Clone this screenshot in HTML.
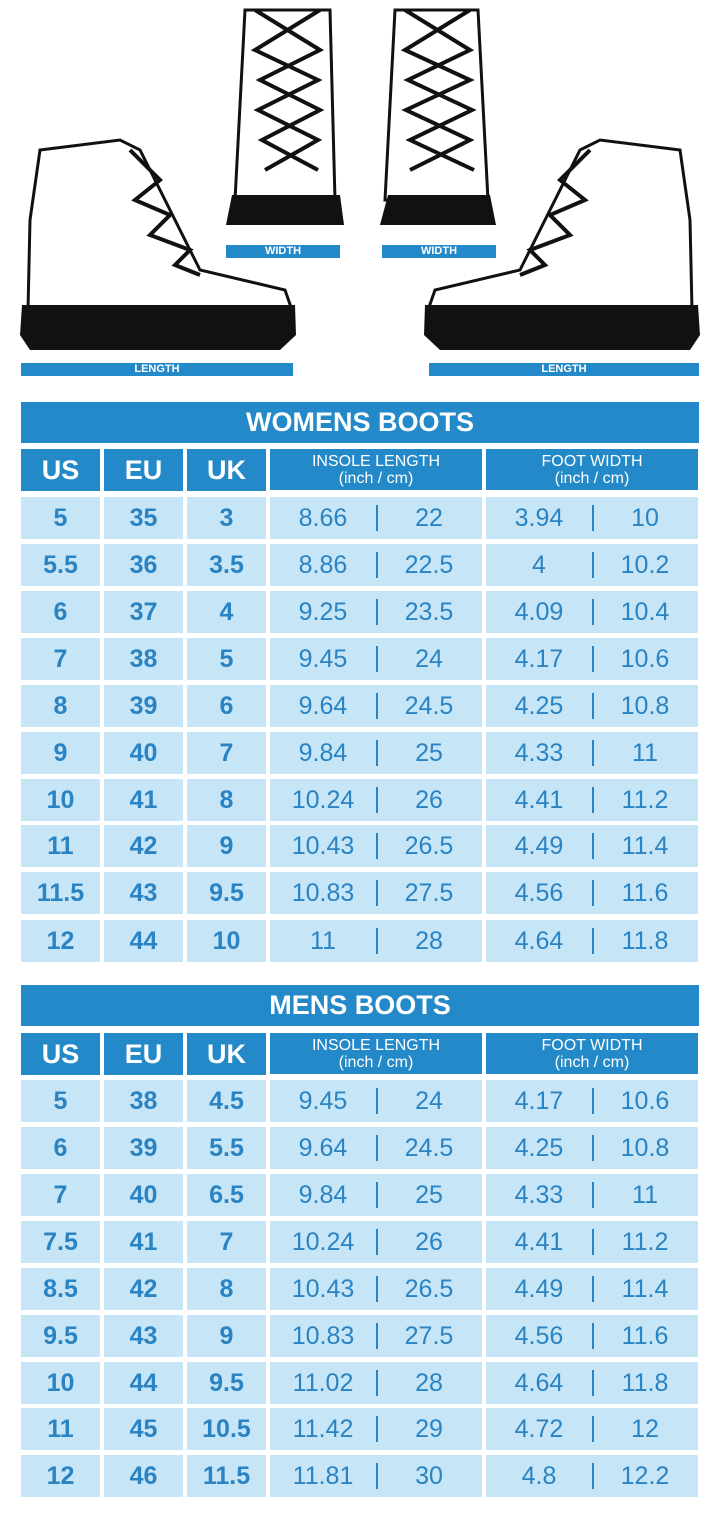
<!DOCTYPE html><html><head><meta charset="utf-8"><style>
body{margin:0;width:720px;height:1520px;background:#fff;position:relative;font-family:"Liberation Sans",sans-serif;overflow:hidden}
.t{position:absolute;left:21px;width:678px;height:41px;background:#2389c8;color:#fff;font-weight:bold;font-size:27px;text-align:center;line-height:41px}
.r{position:absolute;left:21px;width:678px;height:42px;display:flex;gap:4px}
.r div{background:#c6e5f7;color:#2a83c2;font-size:25px;text-align:center;line-height:42px;position:relative}
.r div:nth-child(-n+3){width:79px;font-weight:bold}
.r div:nth-child(n+4){width:212px;display:flex}
.r div span{flex:1}
.r div:nth-child(n+4)::after{content:"";position:absolute;left:106px;top:8px;height:26px;border-left:2px solid #2a83c2}
.h div{background:#2389c8;color:#fff}
.h div:nth-child(-n+3){font-size:27px}
.h div:nth-child(n+4){display:block;font-size:16px;line-height:17px;padding-top:4px;height:37px;font-weight:normal}
.h div:nth-child(n+4)::after{display:none}
.bar{position:absolute;height:13px;background:#2389c8;color:#fff;font-size:11px;font-weight:bold;text-align:center;line-height:13px}
</style></head><body>
<svg width="720" height="390" style="position:absolute;left:0;top:0">
<g stroke="#111" stroke-width="3" fill="#fff">
<path d="M40 150 L120 140 L140 150 L200 270 L285 290 L292 310 L28 310 L30 220 Z"/>
<path d="M680 150 L600 140 L580 150 L520 270 L435 290 L428 310 L692 310 L690 220 Z"/>
<path d="M245 10 L330 10 L335 200 L235 200 Z"/>
<path d="M395 10 L478 10 L488 200 L385 200 Z"/>
</g>
<g stroke="#111" stroke-width="4" fill="none">
<path d="M130 150 L160 180 L135 200 L170 215 L150 235 L190 250 L175 265 L200 275"/>
<path d="M590 150 L560 180 L585 200 L550 215 L570 235 L530 250 L545 265 L520 275"/>
<path d="M255 10 L320 50 L260 80 L320 110 L262 140 L318 170 M320 10 L255 50 L318 80 L258 110 L318 140 L265 170"/>
<path d="M405 10 L470 50 L408 80 L472 110 L410 140 L474 170 M470 10 L405 50 L470 80 L406 110 L470 140 L410 170"/>
</g>
<g fill="#111">
<path d="M22 305 L295 305 L296 335 L280 350 L30 350 L20 335 Z"/>
<path d="M698 305 L425 305 L424 335 L440 350 L690 350 L700 335 Z"/>
<path d="M232 195 L340 195 L344 225 L226 225 Z"/>
<path d="M388 195 L490 195 L496 225 L380 225 Z"/>
</g>
</svg>
<div class="bar" style="left:226px;top:245px;width:114px">WIDTH</div>
<div class="bar" style="left:382px;top:245px;width:114px">WIDTH</div>
<div class="bar" style="left:21px;top:363px;width:272px">LENGTH</div>
<div class="bar" style="left:429px;top:363px;width:270px">LENGTH</div>

<div class="t" style="top:402px">WOMENS BOOTS</div>
<div class="r h" style="top:449px"><div>US</div><div>EU</div><div>UK</div><div>INSOLE LENGTH<br>(inch / cm)</div><div>FOOT WIDTH<br>(inch / cm)</div></div>
<div class="r" style="top:497px"><div>5</div><div>35</div><div>3</div><div><span>8.66</span><span>22</span></div><div><span>3.94</span><span>10</span></div></div>
<div class="r" style="top:544px"><div>5.5</div><div>36</div><div>3.5</div><div><span>8.86</span><span>22.5</span></div><div><span>4</span><span>10.2</span></div></div>
<div class="r" style="top:591px"><div>6</div><div>37</div><div>4</div><div><span>9.25</span><span>23.5</span></div><div><span>4.09</span><span>10.4</span></div></div>
<div class="r" style="top:638px"><div>7</div><div>38</div><div>5</div><div><span>9.45</span><span>24</span></div><div><span>4.17</span><span>10.6</span></div></div>
<div class="r" style="top:685px"><div>8</div><div>39</div><div>6</div><div><span>9.64</span><span>24.5</span></div><div><span>4.25</span><span>10.8</span></div></div>
<div class="r" style="top:732px"><div>9</div><div>40</div><div>7</div><div><span>9.84</span><span>25</span></div><div><span>4.33</span><span>11</span></div></div>
<div class="r" style="top:779px"><div>10</div><div>41</div><div>8</div><div><span>10.24</span><span>26</span></div><div><span>4.41</span><span>11.2</span></div></div>
<div class="r" style="top:825px"><div>11</div><div>42</div><div>9</div><div><span>10.43</span><span>26.5</span></div><div><span>4.49</span><span>11.4</span></div></div>
<div class="r" style="top:872px"><div>11.5</div><div>43</div><div>9.5</div><div><span>10.83</span><span>27.5</span></div><div><span>4.56</span><span>11.6</span></div></div>
<div class="r" style="top:920px"><div>12</div><div>44</div><div>10</div><div><span>11</span><span>28</span></div><div><span>4.64</span><span>11.8</span></div></div>

<div class="t" style="top:985px">MENS BOOTS</div>
<div class="r h" style="top:1033px"><div>US</div><div>EU</div><div>UK</div><div>INSOLE LENGTH<br>(inch / cm)</div><div>FOOT WIDTH<br>(inch / cm)</div></div>
<div class="r" style="top:1080px"><div>5</div><div>38</div><div>4.5</div><div><span>9.45</span><span>24</span></div><div><span>4.17</span><span>10.6</span></div></div>
<div class="r" style="top:1127px"><div>6</div><div>39</div><div>5.5</div><div><span>9.64</span><span>24.5</span></div><div><span>4.25</span><span>10.8</span></div></div>
<div class="r" style="top:1174px"><div>7</div><div>40</div><div>6.5</div><div><span>9.84</span><span>25</span></div><div><span>4.33</span><span>11</span></div></div>
<div class="r" style="top:1221px"><div>7.5</div><div>41</div><div>7</div><div><span>10.24</span><span>26</span></div><div><span>4.41</span><span>11.2</span></div></div>
<div class="r" style="top:1268px"><div>8.5</div><div>42</div><div>8</div><div><span>10.43</span><span>26.5</span></div><div><span>4.49</span><span>11.4</span></div></div>
<div class="r" style="top:1315px"><div>9.5</div><div>43</div><div>9</div><div><span>10.83</span><span>27.5</span></div><div><span>4.56</span><span>11.6</span></div></div>
<div class="r" style="top:1362px"><div>10</div><div>44</div><div>9.5</div><div><span>11.02</span><span>28</span></div><div><span>4.64</span><span>11.8</span></div></div>
<div class="r" style="top:1408px"><div>11</div><div>45</div><div>10.5</div><div><span>11.42</span><span>29</span></div><div><span>4.72</span><span>12</span></div></div>
<div class="r" style="top:1455px"><div>12</div><div>46</div><div>11.5</div><div><span>11.81</span><span>30</span></div><div><span>4.8</span><span>12.2</span></div></div>
</body></html>
